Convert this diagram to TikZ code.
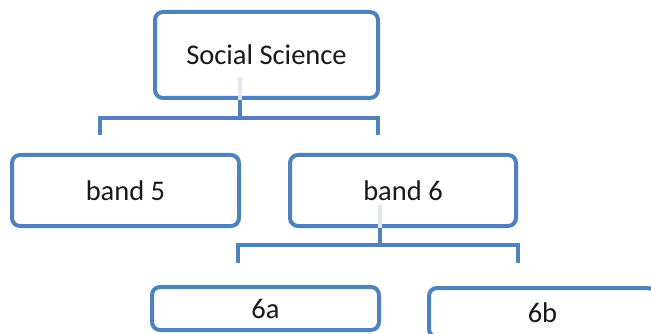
\documentclass[tikz,border=0pt]{standalone}
\usepackage{fontspec}
\setmainfont{Carlito}
\definecolor{BoxBlue}{HTML}{4F81BD}
\definecolor{StubFade}{HTML}{E2E7F0}
\tikzset{
  orgbox/.style={draw=BoxBlue,line width=4pt,rounded corners=8pt,fill=white,
    inner sep=0pt,text=black!90,font=\fontsize{28.5}{32}\selectfont},
  orglink/.style={draw=BoxBlue,line width=4pt,line join=miter},
  orgfade/.style={draw=StubFade,line width=4pt}
}

\begin{document}
\begin{tikzpicture}[x=1pt,y=-1pt]
    % page frame
    \useasboundingbox (0,0) rectangle (651,334);
    \clip (0,0) rectangle (651,334);
    % top box
    \node[orgbox,minimum width=223pt,minimum height=86pt] (ss) at (266.5,55) {Social Science};
    % second row
    \node[orgbox,minimum width=227pt,minimum height=71pt] (b5) at (125.5,190.5) {band 5};
    \node[orgbox,minimum width=226pt,minimum height=71pt] (b6) at (403,190.5) {band 6};
    % third row
    \node[orgbox,minimum width=227pt,minimum height=43pt] (b6a) at (265.5,308.5) {6a};
    \node[orgbox,minimum width=227pt,minimum height=49pt] (b6b) at (542.5,312.5) {6b};
    % taps and tips
    \coordinate (ssfade) at (240,77);
    \coordinate (sstap) at (240,118);
    \coordinate (b5tip) at (100,135);
    \coordinate (b6tip) at (378,135);
    \coordinate (b6fade) at (380,205);
    \coordinate (b6tap) at (380,245);
    \coordinate (atip) at (238,263);
    \coordinate (btip) at (518,263);
    % links from Social Science
    \draw[orgfade] (ssfade) -- (ss.south -| ssfade);
    \draw[orglink] (ss.south -| sstap) -- (sstap);
    \draw[orglink] (b5tip) |- (sstap) -| (b6tip);
    % links from band 6
    \draw[orgfade] (b6fade) -- (b6.south -| b6fade);
    \draw[orglink] (b6.south -| b6tap) -- (b6tap);
    \draw[orglink] (atip) |- (b6tap) -| (btip);
\end{tikzpicture}
\end{document}
